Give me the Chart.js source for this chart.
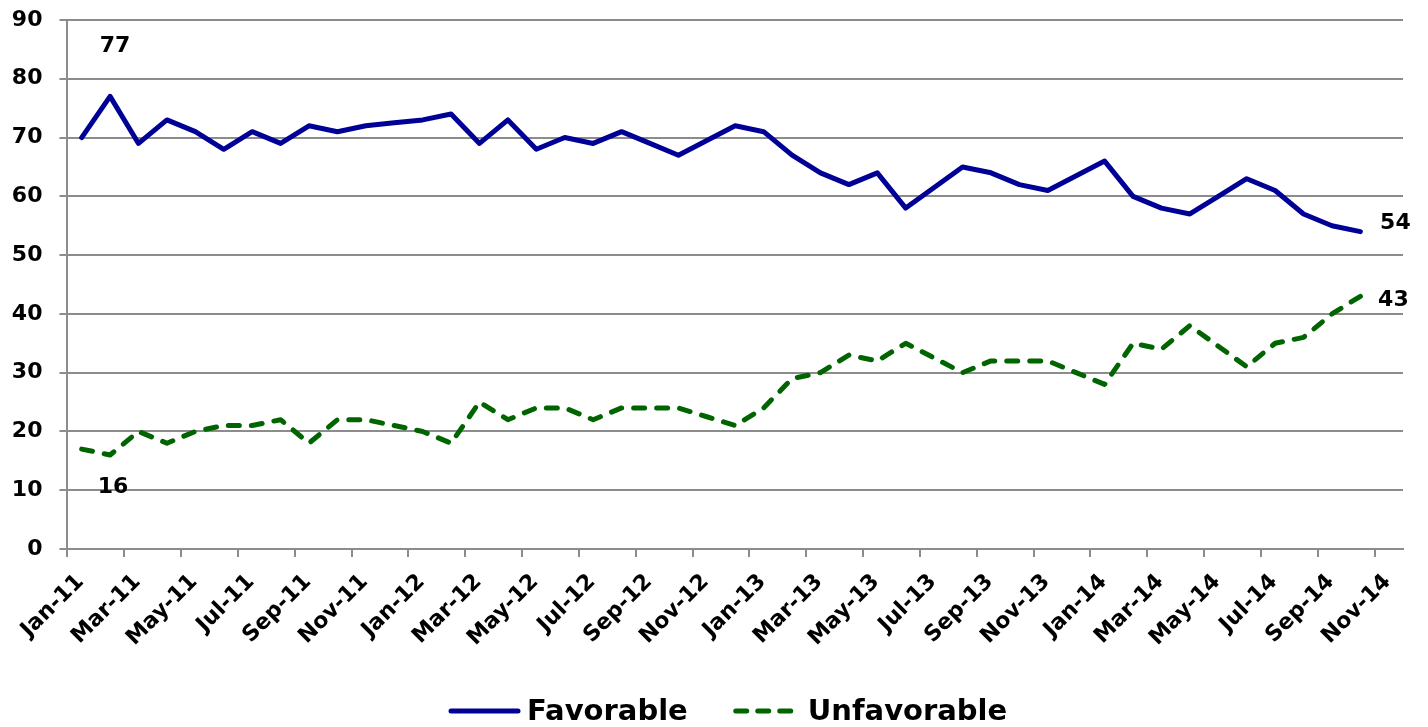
<!DOCTYPE html>
<html>
<head>
<meta charset="utf-8">
<script src="https://cdn.jsdelivr.net/npm/chart.js@4.4.1/dist/chart.umd.min.js"></script>
<style>
  html, body { margin: 0; padding: 0; background: #fff; }
</style>
</head>
<body>
<canvas id="favChart" width="1428" height="727"></canvas>
<script>
// month axis labels, one every two months (Jan-11 .. Nov-14)
const tickLabels = [
    "Jan-11", "Mar-11", "May-11", "Jul-11", "Sep-11", "Nov-11",
    "Jan-12", "Mar-12", "May-12", "Jul-12", "Sep-12", "Nov-12",
    "Jan-13", "Mar-13", "May-13", "Jul-13", "Sep-13", "Nov-13",
    "Jan-14", "Mar-14", "May-14", "Jul-14", "Sep-14", "Nov-14"
];

// monthly values, Jan-11 .. Oct-14
const favorable = [
    70, 77, 69, 73, 71, 68, 71, 69, 72, 71, 72, 72.5,
    73, 74, 69, 73, 68, 70, 69, 71, 69, 67, 69.5, 72,
    71, 67, 64, 62, 64, 58, 61.5, 65, 64, 62, 61, 63.5,
    66, 60, 58, 57, 60, 63, 61, 57, 55, 54
];
const unfavorable = [
    17, 16, 20, 18, 20, 21, 21, 22, 18, 22, 22, 21,
    20, 18, 25, 22, 24, 24, 22, 24, 24, 24, 22.5, 21,
    24, 29, 30, 33, 32, 35, 32.5, 30, 32, 32, 32, 30,
    28, 35, 34, 38, 34.5, 31, 35, 36, 40, 43
];

const seriesNames = ["Favorable", "Unfavorable"];

// which points get a value written next to them
const callouts = [
    { series: 0, index: 1, dx: 5, dy: -50 },
    { series: 1, index: 1, dx: 3, dy: 32 },
    { series: 0, index: 45, dx: 35, dy: -8 },
    { series: 1, index: 45, dx: 33, dy: 4 }
];

const FONT = "'DejaVu Sans', 'Liberation Sans', sans-serif";
const GRID = "#8c8c8c";

Chart.defaults.font.family = FONT;
Chart.defaults.font.weight = "bold";
Chart.defaults.color = "#000";

const toPoints = arr => arr.map((v, i) => ({ x: i + 0.5, y: v }));

const calloutPlugin = {
    id: "callouts",
    afterDatasetsDraw(chart) {
        const ctx = chart.ctx;
        ctx.save();
        ctx.font = "bold 22px " + FONT;
        ctx.fillStyle = "#000";
        ctx.textAlign = "center";
        ctx.textBaseline = "middle";
        callouts.forEach(c => {
            const pt = chart.getDatasetMeta(c.series).data[c.index];
            const val = chart.data.datasets[c.series].data[c.index].y;
            ctx.fillText(String(val), pt.x + c.dx, pt.y + c.dy);
        });
        ctx.restore();
    }
};

const legendPlugin = {
    id: "lineLegend",
    afterDraw(chart) {
        const ctx = chart.ctx;
        const y = 711;
        ctx.save();
        ctx.font = "bold 29px " + FONT;
        ctx.textBaseline = "middle";
        ctx.fillStyle = "#000";
        let x = 451;
        chart.data.datasets.forEach((ds, i) => {
            const dashed = ds.borderDash && ds.borderDash.length;
            ctx.strokeStyle = ds.borderColor;
            ctx.lineWidth = 5;
            ctx.lineCap = "round";
            ctx.setLineDash(dashed ? [11, 11] : []);
            const len = dashed ? 55 : 67;
            ctx.beginPath();
            ctx.moveTo(x, y);
            ctx.lineTo(x + len, y);
            ctx.stroke();
            ctx.setLineDash([]);
            const tx = x + len + (i === 0 ? 9 : 17);
            ctx.fillText(ds.label, tx, y + 1);
            x = tx + ctx.measureText(ds.label).width + 48;
        });
        ctx.restore();
    }
};

new Chart(document.getElementById("favChart"), {
    type: "line",
    data: {
        datasets: [
            {
                label: seriesNames[0],
                data: toPoints(favorable),
                borderColor: "#000096",
                borderWidth: 5,
                borderJoinStyle: "round",
                borderCapStyle: "round",
                pointRadius: 0,
                tension: 0
            },
            {
                label: seriesNames[1],
                data: toPoints(unfavorable),
                borderColor: "#006400",
                borderWidth: 5,
                borderDash: [11, 12],
                borderJoinStyle: "round",
                borderCapStyle: "round",
                pointRadius: 0,
                tension: 0
            }
        ]
    },
    options: {
        responsive: false,
        animation: false,
        layout: {
            padding: { top: 20, right: 25, bottom: 48, left: 0 }
        },
        plugins: {
            legend: { display: false },
            tooltip: { enabled: false }
        },
        scales: {
            x: {
                type: "linear",
                min: 0,
                max: 47,
                // one tick at the start of every labelled month
                afterBuildTicks: scale => {
                    scale.ticks = tickLabels.map((_, i) => ({ value: i * 2 }));
                },
                afterFit: scale => { scale.height = 130; },
                ticks: {
                    autoSkip: false,
                    minRotation: 45,
                    maxRotation: 45,
                    padding: 12,
                    labelOffset: 13,
                    font: { size: 22, weight: "bold" },
                    callback: value => tickLabels[value / 2]
                },
                grid: {
                    drawOnChartArea: false,
                    drawTicks: true,
                    tickLength: 8,
                    color: GRID,
                    lineWidth: 2
                },
                border: { color: GRID, width: 2 }
            },
            y: {
                min: 0,
                max: 90,
                afterFit: scale => {
                    scale.width = 67;
                    scale.paddingTop = 10;
                    scale.paddingBottom = 10;
                },
                ticks: {
                    stepSize: 10,
                    padding: 17,
                    font: { size: 22, weight: "bold" }
                },
                grid: {
                    color: GRID,
                    lineWidth: 2,
                    tickLength: 8
                },
                border: { color: GRID, width: 2 }
            }
        }
    },
    plugins: [calloutPlugin, legendPlugin]
});
</script>
</body>
</html>
